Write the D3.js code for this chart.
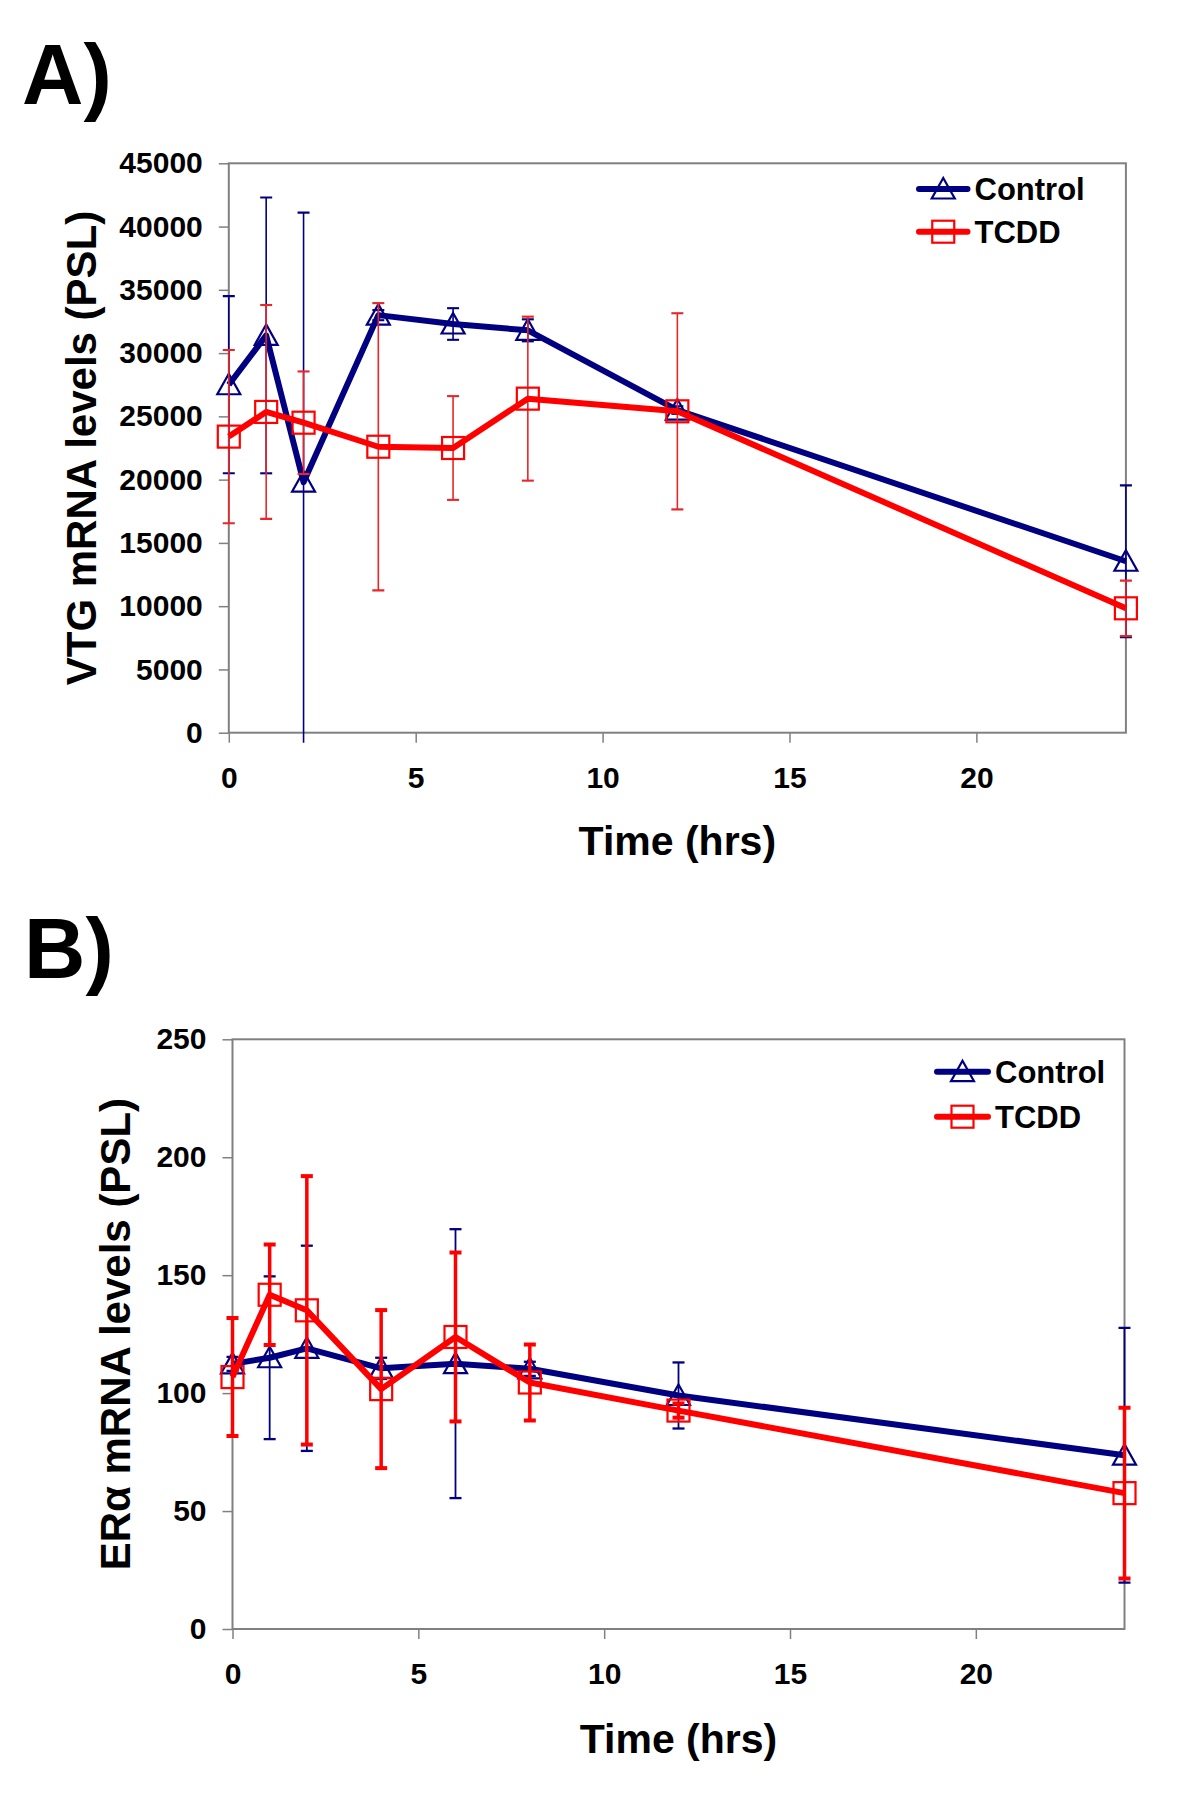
<!DOCTYPE html>
<html>
<head>
<meta charset="utf-8">
<script src="https://cdn.jsdelivr.net/npm/d3@7"></script>
<style>
  html, body { margin: 0; padding: 0; background: #ffffff; }
  svg { display: block; }
  text { font-family: "Liberation Sans", Arial, sans-serif; font-weight: bold; fill: #000; }
</style>
</head>
<body>
<script>
// ---------------- DATA ----------------
const times = [0, 1, 2, 4, 6, 8, 12, 24];
const seriesNames = ["Control", "TCDD"];

// Panel A: VTG mRNA levels (PSL)
const vtgControl    = [27500, 31400, 19800, 33000, 32300, 31800, 25500, 13550];
const vtgControlErr = [7000, 10900, 21300, 400, 1250, 870, 300, 6000];
const vtgTcdd       = [23400, 25350, 24500, 22600, 22500, 26400, 25400, 9830];
const vtgTcddErr    = [6850, 8450, 4050, 11350, 4100, 6480, 7750, 2190];
const vtgTicks      = [0, 5000, 10000, 15000, 20000, 25000, 30000, 35000, 40000, 45000];

// Panel B: ERα mRNA levels (PSL)
const eraControl    = [112.4, 115, 119, 110.5, 112.5, 110.3, 99, 73.7];
const eraControlErr = [3, 34.5, 43.5, 4.5, 57, 3, 14, 54];
const eraTcdd       = [106.8, 141.7, 135.1, 101.7, 123.8, 104.5, 92.6, 57.6];
const eraTcddErr    = [25, 21.3, 56.9, 33.5, 35.8, 16.1, 3, 36.2];
const eraTicks      = [0, 50, 100, 150, 200, 250];

const timeTicks = [0, 5, 10, 15, 20];

// ---------------- STYLE ----------------
const W = 1195, H = 1812;
const NAVY = "#000080", RED = "#ff0000", AXIS = "#808080";

const svg = d3.select("body").append("svg")
  .attr("width", W).attr("height", H)
  .attr("viewBox", `0 0 ${W} ${H}`);
svg.append("rect").attr("width", W).attr("height", H).attr("fill", "#fff");

const triPath = "M0,-11 L11.5,9.5 L-11.5,9.5 Z";

function drawPanel(cfg) {
  const g = svg.append("g");
  const x = d3.scaleLinear().domain([0, 24]).range([cfg.left, cfg.right]);
  const y = d3.scaleLinear().domain([0, cfg.yMax]).range([cfg.bottom, cfg.top]);

  // panel letter
  g.append("text").attr("x", cfg.letterX).attr("y", cfg.letterY)
    .style("font-size", "85px").text(cfg.letter);

  // Clip for data (allow small overflow below axis)
  const clipId = "clip" + cfg.letter.replace(/\W/g, "");
  svg.append("clipPath").attr("id", clipId).append("rect")
    .attr("x", cfg.left - 30).attr("y", cfg.top - 40)
    .attr("width", cfg.right - cfg.left + 60).attr("height", cfg.bottom - cfg.top + 50);

  // axes
  const yAxis = d3.axisLeft(y).tickValues(cfg.yTicks).tickSize(10).tickPadding(16)
    .tickFormat(d3.format("d"));
  const ya = g.append("g").attr("transform", `translate(${cfg.left},0)`).call(yAxis);
  ya.select(".domain").remove();
  ya.selectAll(".tick line").attr("stroke", AXIS).attr("stroke-width", 1.5);
  ya.selectAll(".tick text").style("font-size", "30px").attr("fill", "#000")
    .attr("font-family", "Liberation Sans, Arial, sans-serif").attr("font-weight", "bold");

  const xAxis = d3.axisBottom(x).tickValues(timeTicks).tickSize(10).tickPadding(24)
    .tickFormat(d3.format("d"));
  const xa = g.append("g").attr("transform", `translate(0,${cfg.bottom})`).call(xAxis);
  xa.select(".domain").remove();
  xa.selectAll(".tick line").attr("stroke", AXIS).attr("stroke-width", 1.5);
  xa.selectAll(".tick text").style("font-size", "30px").attr("fill", "#000")
    .attr("font-family", "Liberation Sans, Arial, sans-serif").attr("font-weight", "bold");

  // plot border
  g.append("rect").attr("x", cfg.left).attr("y", cfg.top)
    .attr("width", cfg.right - cfg.left).attr("height", cfg.bottom - cfg.top)
    .attr("fill", "none").attr("stroke", AXIS).attr("stroke-width", 2);

  // axis titles
  g.append("text")
    .attr("transform", `translate(${cfg.yTitleX},${(cfg.top + cfg.bottom) / 2}) rotate(-90)`)
    .attr("text-anchor", "middle").style("font-size", "42px").text(cfg.yTitle);
  g.append("text").attr("x", (cfg.left + cfg.right) / 2).attr("y", cfg.bottom + cfg.xTitleOff)
    .attr("text-anchor", "middle").style("font-size", "41px").text("Time (hrs)");

  const data = g.append("g").attr("clip-path", `url(#${clipId})`);
  const series = [
    { name: seriesNames[0], vals: cfg.control, errs: cfg.controlErr, color: NAVY, ebColor: NAVY, ebW: cfg.ctrlEbW, marker: "tri" },
    { name: seriesNames[1], vals: cfg.tcdd, errs: cfg.tcddErr, color: RED, ebColor: cfg.tcddEbColor, ebW: cfg.tcddEbW, marker: "sq" }
  ];
  const line = d3.line().x((d, i) => x(times[i])).y(d => y(d));

  series.forEach(s => {
    const sg = data.append("g");
    // error bars
    s.vals.forEach((v, i) => {
      const cx = x(times[i]);
      const y1 = y(v + s.errs[i]), y2 = y(v - s.errs[i]);
      sg.append("line").attr("x1", cx).attr("x2", cx).attr("y1", y1).attr("y2", y2)
        .attr("stroke", s.ebColor).attr("stroke-width", s.ebW);
      [y1, y2].forEach(yy => {
        sg.append("line").attr("x1", cx - 6).attr("x2", cx + 6).attr("y1", yy).attr("y2", yy)
          .attr("stroke", s.ebColor).attr("stroke-width", s.ebW + 0.5);
      });
    });
    // line
    sg.append("path").datum(s.vals).attr("d", line)
      .attr("fill", "none").attr("stroke", s.color).attr("stroke-width", 6)
      .attr("stroke-linejoin", "round");
    // markers
    s.vals.forEach((v, i) => {
      const cx = x(times[i]), cy = y(v);
      if (s.marker === "tri") {
        sg.append("path").attr("d", triPath).attr("transform", `translate(${cx},${cy})`)
          .attr("fill", "none").attr("stroke", NAVY).attr("stroke-width", 2.2);
      } else {
        sg.append("rect").attr("x", cx - 11).attr("y", cy - 11).attr("width", 22).attr("height", 22)
          .attr("fill", "none").attr("stroke", RED).attr("stroke-width", 2.2);
      }
    });
  });

  // legend
  const lg = g.append("g");
  series.forEach((s, i) => {
    const ly = cfg.legY + i * cfg.legGap;
    lg.append("line").attr("x1", cfg.legX0).attr("x2", cfg.legX1).attr("y1", ly).attr("y2", ly)
      .attr("stroke", s.color).attr("stroke-width", 6).attr("stroke-linecap", "round");
    const mx = (cfg.legX0 + cfg.legX1) / 2;
    if (s.marker === "tri") {
      lg.append("path").attr("d", triPath).attr("transform", `translate(${mx},${ly})`)
        .attr("fill", "none").attr("stroke", NAVY).attr("stroke-width", 2.2);
    } else {
      lg.append("rect").attr("x", mx - 11).attr("y", ly - 11).attr("width", 22).attr("height", 22)
        .attr("fill", "none").attr("stroke", RED).attr("stroke-width", 2.2);
    }
    lg.append("text").attr("x", cfg.legX1 + 7).attr("y", ly + 11)
      .style("font-size", "31px").text(s.name);
  });
}

drawPanel({
  letter: "A)", letterX: 22, letterY: 104,
  left: 228.8, right: 1125.9, top: 163.3, bottom: 732.7,
  yMax: 45000, yTicks: vtgTicks,
  yTitle: "VTG mRNA levels (PSL)", yTitleX: 96, xTitleOff: 122,
  control: vtgControl, controlErr: vtgControlErr,
  tcdd: vtgTcdd, tcddErr: vtgTcddErr,
  ctrlEbW: 1.6, tcddEbW: 1.6, tcddEbColor: "#e8262a",
  legX0: 919, legX1: 967.5, legY: 189, legGap: 42.7
});

drawPanel({
  letter: "B)", letterX: 24, letterY: 978,
  left: 232.5, right: 1124.5, top: 1039.3, bottom: 1629,
  yMax: 250, yTicks: eraTicks,
  yTitle: "ERα mRNA levels (PSL)", yTitleX: 130, xTitleOff: 124,
  control: eraControl, controlErr: eraControlErr,
  tcdd: eraTcdd, tcddErr: eraTcddErr,
  ctrlEbW: 1.8, tcddEbW: 3.5, tcddEbColor: RED,
  legX0: 937, legX1: 988, legY: 1071.7, legGap: 45
});
</script>
</body>
</html>
